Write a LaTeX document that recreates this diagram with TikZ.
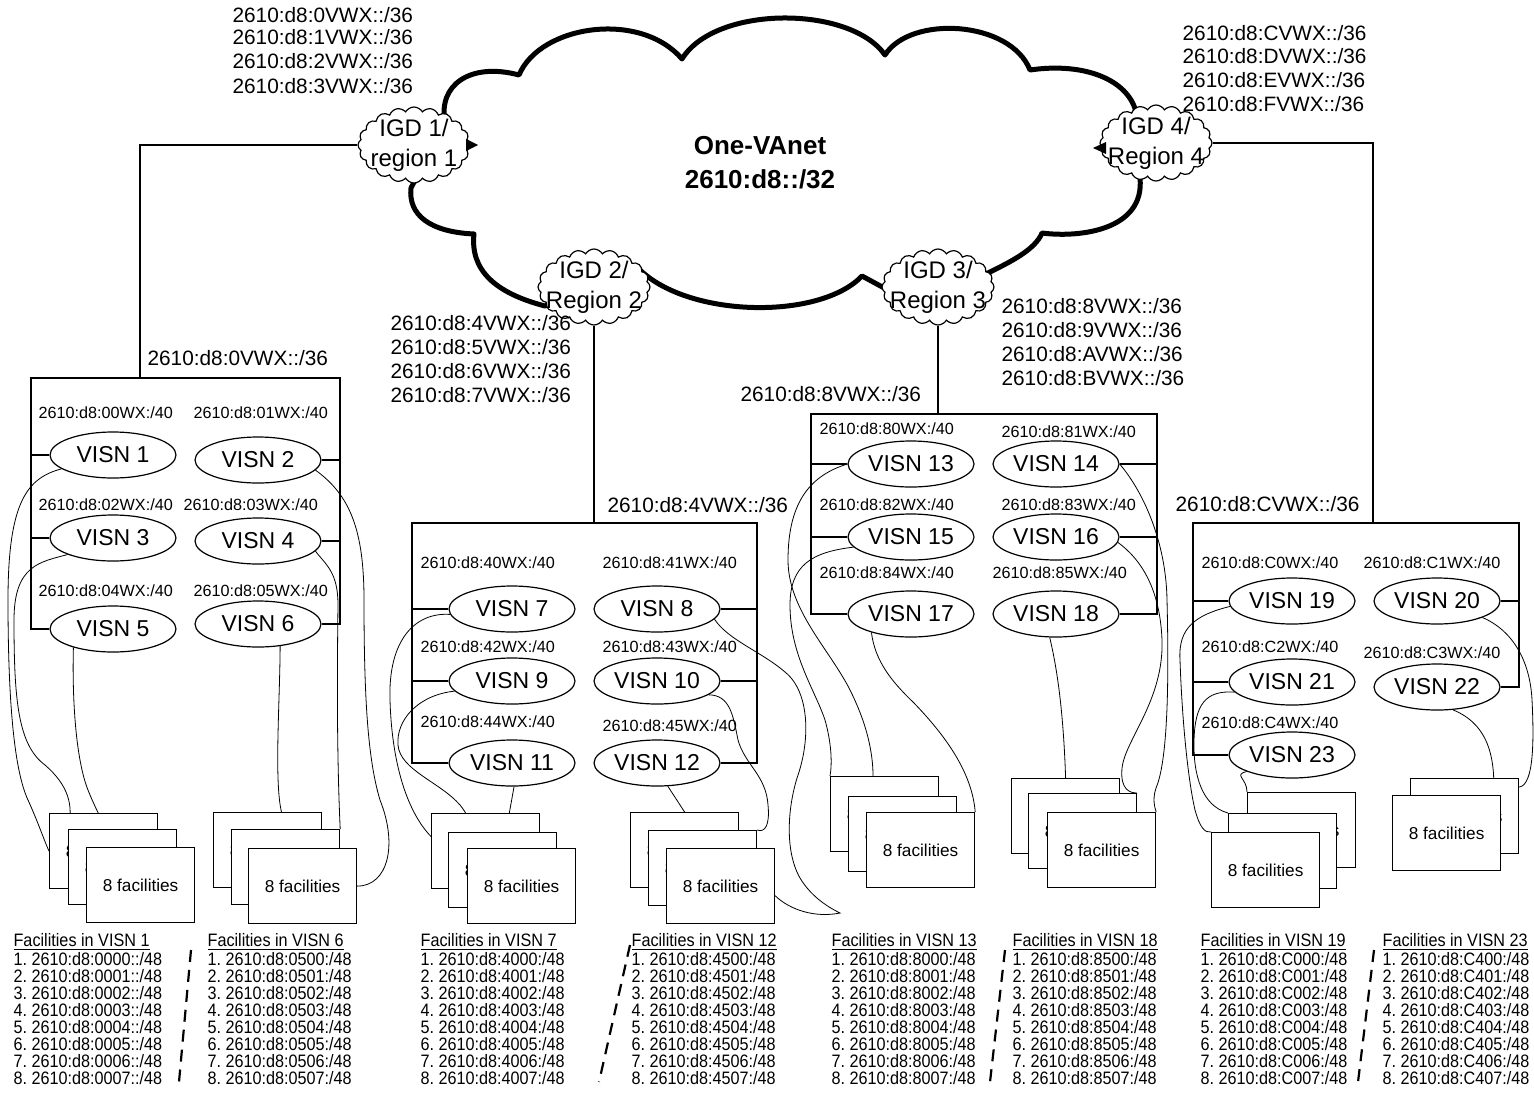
\documentclass[tikz,border=0pt]{standalone}
\usepackage{fontspec}
\setmainfont{Liberation Sans}
\newfontfamily\narrowfont[FakeStretch=0.9]{Liberation Sans}
\usetikzlibrary{shapes.geometric, shapes.symbols, backgrounds}

\begin{document}
\frenchspacing
\begin{tikzpicture}[
    x=0.5pt, y=-0.5pt,
    line width=0.6pt,
    igd/.style={
        cloud, cloud puffs=20, cloud puff arc=120, cloud ignores aspect,
        draw, fill=white,
        minimum width=56pt, minimum height=38pt,
        inner xsep=-10pt, inner ysep=-6pt,
        align=center, font=\fontsize{12}{15}\selectfont
    },
    visn/.style={
        ellipse, draw,
        minimum width=63pt, minimum height=23pt,
        inner sep=0pt, font=\fontsize{11.5}{13}\selectfont
    },
    netlbl/.style={anchor=west, inner sep=0pt, font=\fontsize{10.4}{12}\selectfont},
    sublbl/.style={anchor=west, inner sep=0pt, font=\fontsize{8.1}{10}\selectfont},
    facbox/.style={
        draw, fill=white, anchor=north west,
        minimum width=54pt, minimum height=37.5pt,
        inner sep=0pt, font=\fontsize{8.6}{10}\selectfont
    },
    listtxt/.style={anchor=west, inner sep=0pt, font=\narrowfont\fontsize{9}{10}\selectfont},
    cloudline/.style={line width=2.5pt, line join=round},
    divider/.style={line width=1.1pt, dash pattern=on 6pt off 4pt}
]
\useasboundingbox (0,0) rectangle (1534,1108);

% backbone cloud
\draw[cloudline] (445,122) .. controls (438,85) and (470,62) .. (519,75)
    .. controls (540,25) and (640,10) .. (682,59)
    .. controls (715,5) and (850,5) .. (885,55)
    .. controls (910,15) and (1010,20) .. (1030,70)
    .. controls (1085,62) and (1128,80) .. (1136,112)
    -- (1140,178)
    .. controls (1145,230) and (1080,238) .. (1042,233)
    .. controls (1035,250) and (1010,262) .. (988,273)
    -- (886,289) -- (862,276)
    .. controls (820,320) and (690,318) .. (640,270)
    -- (545,306)
    .. controls (495,293) and (470,270) .. (474,234)
    .. controls (430,232) and (408,215) .. (411,188)
    -- cycle;

\node[igd] (igd1) at (414,145) {IGD 1/\\region 1};
\node[igd] (igd2) at (594,287) {IGD 2/\\Region 2};
\node[igd] (igd3) at (938,287) {IGD 3/\\Region 3};
\node[igd] (igd4) at (1156,143) {IGD 4/\\Region 4};
\fill (466,139) -- (478,145) -- (466,151) -- cycle;
\fill (1106,142) -- (1093,148) -- (1106,154) -- cycle;

\node[font=\bfseries\fontsize{13}{17}\selectfont, align=center] (core) at (760,163) {One-VAnet\\2610:d8::/32};

% /36 prefixes
\foreach \d/\py in {0/15, 1/37, 2/61, 3/86}
    \node[netlbl] (igdA\d) at (232,\py) {2610:d8:\d VWX::/36};
\foreach \d/\py in {C/33, D/56, E/80, F/104}
    \node[netlbl] (igdD\d) at (1182,\py) {2610:d8:\d VWX::/36};
\foreach \d/\py in {4/323, 5/347, 6/371, 7/395}
    \node[netlbl] (igdB\d) at (390,\py) {2610:d8:\d VWX::/36};
\foreach \d/\py in {8/306, 9/330, A/354, B/378}
    \node[netlbl] (igdC\d) at (1001,\py) {2610:d8:\d VWX::/36};

\node[netlbl] (reg1) at (147,358) {2610:d8:0VWX::/36};
\node[netlbl] (reg2) at (607,505) {2610:d8:4VWX::/36};
\node[netlbl] (reg3) at (740,394) {2610:d8:8VWX::/36};
\node[netlbl] (reg4) at (1175,504) {2610:d8:CVWX::/36};

% /40 prefixes
\foreach \sn/\px/\py in {00/38/413, 01/193/413, 02/38/505, 03/183/505, 04/38/591, 05/193/591,
        40/420/563, 41/602/563, 42/420/647, 43/602/647, 44/420/722, 45/602/726,
        80/819/429, 81/1001/432, 82/819/505, 83/1001/505, 84/819/573, 85/992/573,
        C0/1201/563, C1/1363/563, C2/1201/647, C3/1363/653, C4/1201/723}
    \node[sublbl] (s\sn) at (\px,\py) {2610:d8:\sn WX:/40};

% VISNs
\foreach \n/\px/\py in {1/113/455, 2/258/460, 3/113/538, 4/258/541, 5/113/629, 6/258/624,
        7/512/609, 8/657/609, 9/512/681, 10/657/681, 11/512/763, 12/657/763,
        13/911/464, 14/1056/464, 15/911/537, 16/1056/537, 17/911/614, 18/1056/614,
        19/1292/601, 20/1437/601, 21/1292/682, 22/1437/687, 23/1292/755}
    \node[visn] (v\n) at (\px,\py) {VISN \n};

% region brackets
\coordinate (b1nw) at (31,378);   \coordinate (b1ne) at (340,378);
\coordinate (b2nw) at (412,523);  \coordinate (b2ne) at (757,523);
\coordinate (b3nw) at (811,414);  \coordinate (b3ne) at (1157,414);
\coordinate (b4nw) at (1193,523); \coordinate (b4ne) at (1519,523);

\draw (v5.west) -- (v5.west -| b1nw) -- (b1nw) -- (b1ne) -- (v6.east -| b1ne) -- (v6.east);
\draw (v11.west) -- (v11.west -| b2nw) -- (b2nw) -- (b2ne) -- (v12.east -| b2ne) -- (v12.east);
\draw (v17.west) -- (v17.west -| b3nw) -- (b3nw) -- (b3ne) -- (v18.east -| b3ne) -- (v18.east);
\draw (v23.west) -- (v23.west -| b4nw) -- (b4nw) -- (b4ne) -- (v22.east -| b4ne) -- (v22.east);
\foreach \v/\b in {v1/b1nw, v3/b1nw, v7/b2nw, v9/b2nw, v13/b3nw, v15/b3nw, v19/b4nw, v21/b4nw}
    \draw (\v.west) -- (\v.west -| \b);
\foreach \v/\b in {v2/b1ne, v4/b1ne, v8/b2ne, v10/b2ne, v14/b3ne, v16/b3ne, v20/b4ne}
    \draw (\v.east) -- (\v.east -| \b);

% uplinks
\coordinate (b1top) at (140,378);
\coordinate (b4top) at (1373,523);
\draw (igd1.west) -| (b1top);
\draw (igd2.south) -- (igd2.south |- b2nw);
\draw (igd3.south) -- (igd3.south |- b3nw);
\draw (igd4.east) -| (b4top);

% facility stacks
\foreach \k/\ax/\ay/\bx/\by/\cx/\cy in {1/49/813/68/829/86/847, 2/213/812/231/829/248/848,
        3/431/813/448/832/467/848, 4/630/812/648/830/666/848,
        5/830/776/848/796/866/812, 6/1011/778/1028/793/1047/812,
        7/1247/792/1228/813/1211/832} {
    \node[facbox] (f\k a) at (\ax,\ay) {8 facilities};
    \node[facbox] (f\k b) at (\bx,\by) {8 facilities};
    \node[facbox] (f\k c) at (\cx,\cy) {8 facilities};
}
\node[facbox] (f8a) at (1410,778) {8 facilities};
\node[facbox] (f8b) at (1392,795) {8 facilities};

% VISN to facilities
\begin{scope}[on background layer]
\draw (v1.195) .. controls (28,478) and (8,500) .. (8,600) .. controls (8,700) and (14,770) .. (28,800) .. controls (38,822) and (44,840) .. (f1a.west);
\draw (v3.200) .. controls (40,562) and (14,565) .. (14,620) .. controls (14,700) and (18,745) .. (45,765) .. controls (68,785) and (74,805) .. (f1b.north west);
\draw (v5.205) .. controls (72,700) and (76,760) .. (88,790) .. controls (98,815) and (108,832) .. (f1c.120);
\draw (v6.315) .. controls (280,700) and (274,780) .. (f2a.70);
\draw (v4.350) .. controls (326,565) and (338,572) .. (338,605) .. controls (337,680) and (337,760) .. (f2b.north east);
\draw (v2.350) .. controls (350,495) and (364,530) .. (364,600) .. controls (364,700) and (368,760) .. (380,800) .. controls (398,845) and (388,886) .. (f2c.east);

\draw (v7.185) .. controls (415,612) and (388,640) .. (390,700) .. controls (392,770) and (410,815) .. (f3a.165);
\draw (v9.190) .. controls (418,695) and (396,720) .. (398,745) .. controls (400,770) and (440,782) .. (460,805) .. controls (474,822) and (470,832) .. (f3b.140);
\draw (v11.275) -- (f3c.116);
\draw (v12.295) -- (f4a.north);
\draw (v10.345) .. controls (730,695) and (733,715) .. (738,740) .. controls (745,765) and (766,775) .. (768,805) .. controls (770,825) and (765,833) .. (f4b.north east);
\draw (v8.350) .. controls (728,640) and (762,652) .. (785,672) .. controls (810,692) and (810,740) .. (798,775) .. controls (788,805) and (784,850) .. (800,878) .. controls (812,898) and (830,908) .. (840,913) .. controls (815,918) and (790,910) .. (f4c.350);

\draw (v13.west) .. controls (812,475) and (788,500) .. (788,560) .. controls (788,610) and (830,650) .. (850,690) .. controls (870,730) and (876,765) .. (f5b.129);
\draw (v15.190) .. controls (812,552) and (790,565) .. (790,605) .. controls (790,655) and (815,690) .. (825,720) .. controls (832,745) and (832,765) .. (f5a.north west);
\draw (v17.205) .. controls (875,660) and (890,680) .. (913,702) .. controls (945,735) and (972,772) .. (f5c.north east);
\draw (v18.255) .. controls (1055,660) and (1063,700) .. (f6a.north);
\draw (v16.355) .. controls (1142,560) and (1160,590) .. (1162,640) .. controls (1164,700) and (1125,740) .. (1122,768) .. controls (1120,790) and (1130,793) .. (f6b.north east);
\draw (v14.east) .. controls (1142,490) and (1166,540) .. (1167,600) .. controls (1169,680) and (1168,760) .. (1156,788) .. controls (1152,800) and (1155,808) .. (f6c.north east);

\draw (v19.185) .. controls (1195,615) and (1178,628) .. (1180,660) .. controls (1182,720) and (1188,780) .. (1195,810) .. controls (1200,828) and (1205,833) .. (f7c.north west);
\draw (v21.190) .. controls (1205,690) and (1195,705) .. (1194,740) .. controls (1193,775) and (1202,806) .. (f7b.north west);
\draw (v23.200) .. controls (1233,775) and (1247,778) .. (f7a.north west);
\draw (v22.305) .. controls (1490,725) and (1495,760) .. (f8b.39);
\draw (v20.340) .. controls (1512,630) and (1530,660) .. (1532,700) .. controls (1534,740) and (1534,785) .. (f8a.28);
\end{scope}

% facility lists
\foreach \c/\px/\hd/\pre/\sep in {1/13/1/000/::, 2/207/6/050/:, 3/420/7/400/:, 4/631/12/450/:,
        5/831/13/800/:, 6/1012/18/850/:, 7/1200/19/C00/:, 8/1382/23/C40/:} {
    \node[listtxt] (h\c) at (\px,942) {\underline{Facilities in VISN \hd}};
    \foreach \i in {0,...,7} {
        \pgfmathtruncatemacro\j{\i+1}
        \node[listtxt] (l\c-\i) at (\px,{959+17*\i}) {\j. 2610:d8:\pre\i\sep/48};
    }
}

\coordinate (d1t) at (191,950);  \coordinate (d1b) at (179,1082);
\coordinate (d2t) at (630,945);  \coordinate (d2b) at (599,1082);
\coordinate (d3t) at (1005,950); \coordinate (d3b) at (990,1082);
\coordinate (d4t) at (1374,950); \coordinate (d4b) at (1358,1082);
\foreach \d in {1,2,3,4}
    \draw[divider] (d\d t) -- (d\d b);
\end{tikzpicture}
\end{document}
